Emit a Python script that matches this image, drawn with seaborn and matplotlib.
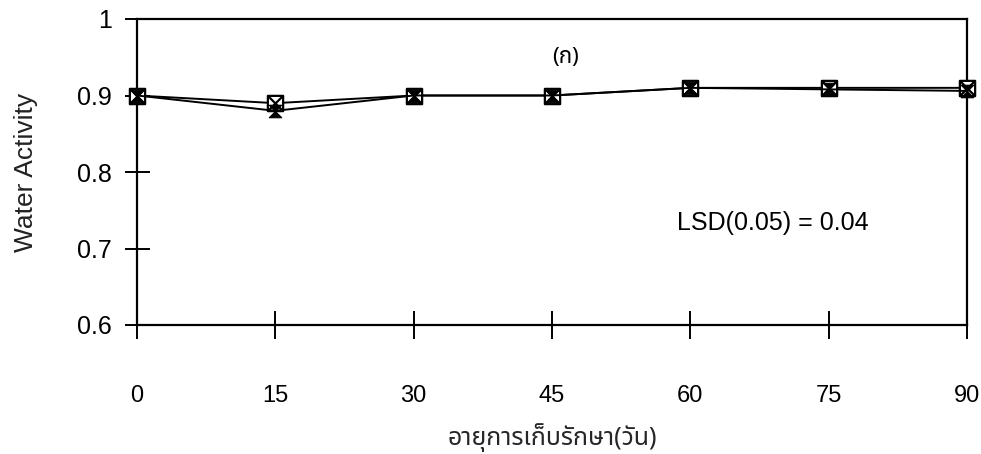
import numpy as np
import pandas as pd
import matplotlib
matplotlib.use("Agg")
import matplotlib.pyplot as plt
import seaborn as sns
from matplotlib import font_manager as fm
from matplotlib.ft2font import FT2Font
from matplotlib.path import Path

# ---------------- data ----------------
days = [0, 15, 30, 45, 60, 75, 90]
series_a = [0.90, 0.89, 0.90, 0.90, 0.91, 0.91, 0.91]
series_b = [0.90, 0.88, 0.90, 0.90, 0.91, 0.908, 0.906]
y_ticks = [0.6, 0.7, 0.8, 0.9, 1.0]
y_tick_labels = ["0.6", "0.7", "0.8", "0.9", "1"]
x_tick_labels = ["0", "15", "30", "45", "60", "75", "90"]
x_title = "อายุการเก็บรักษา(วัน)"
y_title = "Water Activity"
panel_label = "(ก)"
lsd_text = "LSD(0.05) = 0.04"

# ---------------- fonts ----------------
sns.set_theme(style="white")
names = {f.name for f in fm.fontManager.ttflist}

def font_with(ch, prefer=()):
    for p in prefer:
        if p in names:
            return p
    seen = set()
    for f in fm.fontManager.ttflist:
        if f.name in seen:
            continue
        seen.add(f.name)
        try:
            if ord(ch) in FT2Font(f.fname).get_charmap():
                return f.name
        except Exception:
            pass
    return None

thai = font_with("ก", prefer=["Noto Sans Thai", "Noto Sans Thai Looped", "Loma", "Garuda", "TlwgTypist", "Norasi"])
narrow = "Liberation Sans Narrow" if "Liberation Sans Narrow" in names else "Liberation Sans"
base = "Liberation Sans"
plt.rcParams["font.family"] = [base, "DejaVu Sans"]
thai_family = [thai, base, "DejaVu Sans"] if thai else [base, "DejaVu Sans"]

# ---------------- markers ----------------
box_x = Path([(-1, -1), (1, -1), (1, 1), (-1, 1), (-1, -1), (1, 1), (-1, 1), (1, -1)],
             [Path.MOVETO, Path.LINETO, Path.LINETO, Path.LINETO, Path.LINETO,
              Path.LINETO, Path.MOVETO, Path.LINETO])
hourglass = [(-1, 1), (1, 1), (-1, -1), (1, -1), (-1, 1)]

df_a = pd.DataFrame({"day": days, "aw": series_a})
df_b = pd.DataFrame({"day": days, "aw": series_b})

fig = plt.figure(figsize=(9.81, 4.54), dpi=100)
ax = fig.add_axes([137 / 981, 1 - 325 / 454, (967 - 137) / 981, (325 - 19) / 454])

sns.lineplot(data=df_a, x="day", y="aw", ax=ax, color="black", lw=1.4,
             marker=box_x, markersize=11, markeredgecolor="black",
             markerfacecolor="white", markeredgewidth=1.6, zorder=3, clip_on=False)
sns.lineplot(data=df_b, x="day", y="aw", ax=ax, color="black", lw=1.4,
             marker=hourglass, markersize=9, markeredgecolor="black",
             markerfacecolor="black", markeredgewidth=0.8, zorder=4, clip_on=False)

ax.set_xlim(0, 90)
ax.set_ylim(0.6, 1.0)
ax.set_xticks(days)
ax.set_xticklabels(x_tick_labels, fontfamily=[narrow, "DejaVu Sans"], fontsize=17)
ax.set_yticks(y_ticks)
ax.set_yticklabels(y_tick_labels, fontfamily=[narrow, "DejaVu Sans"], fontsize=18)
ax.tick_params(axis="x", bottom=True, top=False, direction="inout", length=20,
               width=1.4, pad=33, colors="black")
ax.tick_params(axis="y", left=True, right=False, direction="inout", length=18,
               width=1.4, pad=9, colors="black")
for s in ax.spines.values():
    s.set_visible(True)
    s.set_color("black")
    s.set_linewidth(1.6)
ax.set_xlabel(x_title, fontfamily=thai_family, fontsize=18, labelpad=12)
ax.set_ylabel(y_title, fontsize=19, labelpad=28, color="#222222")
ax.grid(False)
ax.set_facecolor("white")

ax.text(46.5, 0.95, panel_label, fontfamily=thai_family, fontsize=16,
        ha="center", va="center", color="black")
ax.text(58.5, 0.733, lsd_text, fontsize=18, ha="left", va="center", color="black")

fig.savefig("out.png", dpi=100, facecolor="white")
